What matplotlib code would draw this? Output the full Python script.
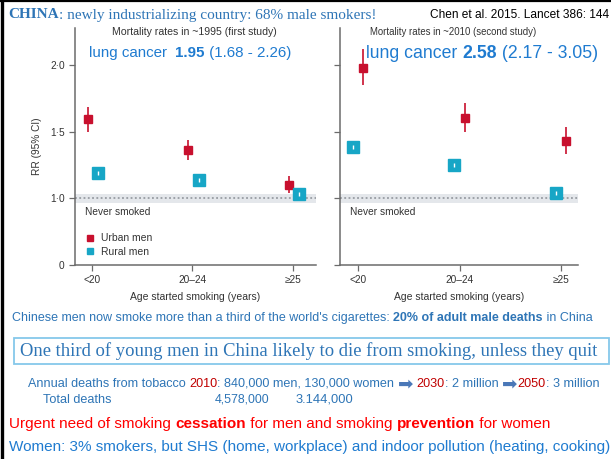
import matplotlib
matplotlib.use('Agg')
from matplotlib import pyplot as plt
from matplotlib import font_manager as fm
from matplotlib.lines import Line2D
from matplotlib.patches import Rectangle

# data
ages = ['<20', '20–24', '≥25']
urban_1995 = [1.60, 1.365, 1.10]
urban_1995_lo = [1.50, 1.29, 1.04]
urban_1995_hi = [1.69, 1.44, 1.17]
rural_1995 = [1.19, 1.135, 1.035]
rural_1995_lo = [1.175, 1.12, 1.02]
rural_1995_hi = [1.205, 1.15, 1.05]
urban_2010 = [1.98, 1.605, 1.435]
urban_2010_lo = [1.85, 1.50, 1.335]
urban_2010_hi = [2.125, 1.72, 1.54]
rural_2010 = [1.385, 1.25, 1.04]
rural_2010_lo = [1.37, 1.235, 1.025]
rural_2010_hi = [1.40, 1.265, 1.055]

W, H = 611, 459
RED = '#c8102e'
TEAL = '#17a6c6'
BLUE = '#2e75b6'
LBLUE = '#1f7bd0'


def has_font(name):
    try:
        fm.findfont(fm.FontProperties(family=name), fallback_to_default=False)
        return True
    except Exception:
        return False


NARROW = 'Liberation Sans Narrow' if has_font('Liberation Sans Narrow') else 'Liberation Sans'
SANS = 'Liberation Sans'
SERIF = 'Liberation Serif'

fig = plt.figure(figsize=(W / 100, H / 100), dpi=100)
fig.patch.set_facecolor('white')


def panel(rect, xlim, urban, ulo, uhi, rural, rlo, rhi, uoff, roff, ylabels):
    ax = fig.add_axes(rect)
    x = range(len(ages))
    ax.axhspan(0.965, 1.03, color='#e4e7eb', lw=0, zorder=0)
    ax.axhline(1.0, color='#8a8f96', lw=1.1, ls=(0, (1.2, 1.6)), zorder=1)
    xu = [i + uoff for i in x]
    xr = [i + roff for i in x]
    ax.vlines(xu, ulo, uhi, color=RED, lw=1.2, zorder=3)
    ax.plot(xu, urban, 's', color=RED, ms=5.5, mec=RED, zorder=4)
    ax.plot(xr, rural, 's', color=TEAL, ms=9, mec=TEAL, zorder=4)
    ax.vlines(xr, rlo, rhi, color='white', lw=1.0, zorder=5)
    ax.set_xlim(*xlim)
    ax.set_ylim(0.5, 2.28)
    ax.set_yticks([0.5, 1.0, 1.5, 2.0])
    if ylabels:
        ax.set_yticklabels(['0', '1·0', '1·5', '2·0'])
        ax.set_ylabel('RR (95% CI)', fontsize=7.3, color='#333', family=NARROW, labelpad=6)
    else:
        ax.set_yticklabels([])
    ax.set_xticks(list(x))
    ax.set_xticklabels(ages)
    ax.set_xlabel('Age started smoking (years)', fontsize=7.5, color='#333', family=NARROW, labelpad=5)
    for s in ['top', 'right']:
        ax.spines[s].set_visible(False)
    for s in ['left', 'bottom']:
        ax.spines[s].set_color('#6b6b6b')
        ax.spines[s].set_linewidth(1.1)
    ax.tick_params(direction='out', length=4, width=0.9, color='#6b6b6b',
                   labelsize=7.3, labelcolor='#333')
    for t in ax.get_xticklabels() + ax.get_yticklabels():
        t.set_family(NARROW)
    ax.text(0.04, 0.224, 'Never smoked', transform=ax.transAxes, fontsize=7.3,
            color='#333', family=NARROW, va='center')
    return ax


ax1 = panel([75 / W, 1 - 265 / H, 241 / W, 237 / H], (-0.169, 2.229),
            urban_1995, urban_1995_lo, urban_1995_hi,
            rural_1995, rural_1995_lo, rural_1995_hi, -0.04, 0.06, True)
ax2 = panel([340 / W, 1 - 265 / H, 238 / W, 237 / H], (-0.177, 2.167),
            urban_2010, urban_2010_lo, urban_2010_hi,
            rural_2010, rural_2010_lo, rural_2010_hi, 0.05, -0.05, False)

handles = [Line2D([], [], marker='s', ls='', color=RED, ms=5),
           Line2D([], [], marker='s', ls='', color=TEAL, ms=5)]
leg = ax1.legend(handles, ['Urban men', 'Rural men'], loc='upper left',
                 bbox_to_anchor=(0.02, 0.16), frameon=False, handlelength=0.7,
                 handletextpad=0.7, labelspacing=0.35, borderaxespad=0.2,
                 prop={'family': NARROW, 'size': 7.5})
for t in leg.get_texts():
    t.set_color('#333')

# slide text on a full-figure layer
bg = fig.add_axes([0, 0, 1, 1], zorder=10)
bg.axis('off')
bg.patch.set_alpha(0)


def text_line(pieces, x0, y, x1=None, size=10, family=SANS):
    arts = []
    mult = []
    base = None
    prev = None
    for s, c, w, fam, m in pieces:
        f = fam or family
        kw = dict(color=c, fontweight=w, family=f, fontsize=size * m, annotation_clip=False)
        if prev is None:
            t = bg.annotate(s, xy=(x0, H - y), xycoords='figure pixels', ha='left',
                            va='center', **kw)
            base = t
        elif m != 1:
            t = bg.annotate(s, xy=(1, 0.5), xycoords=(prev, base), ha='left', va='center', **kw)
        else:
            t = bg.annotate(s, xy=(1, 0), xycoords=(prev, base), ha='left', va='bottom', **kw)
        arts.append(t)
        mult.append(m)
        prev = t
    if x1 is not None:
        fig.canvas.draw()
        r = arts[-1].get_window_extent().x1
        l = arts[0].get_window_extent().x0
        k = (x1 - x0) / (r - l)
        for t, m in zip(arts, mult):
            t.set_fontsize(size * k * m)
    return arts


def P(s, c, w='normal', fam=None, m=1):
    return (s, c, w, fam, m)


text_line([P('CHINA', BLUE, 'bold'),
           P(': newly industrializing country: 68% male smokers!', BLUE)],
          8, 15, 377, size=11, family=SERIF)
text_line([P('Chen et al. 2015. Lancet 386: 144', 'black')], 430, 15, 610, size=9, family=NARROW)
text_line([P('Mortality rates in ~1995 (first study)', '#333')], 112, 32, 277, size=6.5, family=NARROW)
text_line([P('Mortality rates in ~2010 (second study)', '#333')], 370, 32, 536, size=6.5, family=NARROW)
text_line([P('lung cancer  ', LBLUE), P('1.95', LBLUE, 'bold'), P(' (1.68 - 2.26)', LBLUE)],
          89, 53, 292, size=12)
text_line([P('lung cancer ', LBLUE), P('2.58', LBLUE, 'bold'), P(' (2.17 - 3.05)', LBLUE)],
          366, 53, 598, size=12)
text_line([P("Chinese men now smoke more than a third of the world's cigarettes: ", BLUE),
           P('20% of adult male deaths', BLUE, 'bold'), P(' in China', BLUE)],
          12, 318, 592, size=10, family=NARROW)

fig.add_artist(Rectangle((14 / W, 1 - 364 / H), 595 / W, 26 / H, transform=fig.transFigure,
                         fill=False, edgecolor='#86c8ea', lw=1.3))
text_line([P('One third of young men in China likely to die from smoking, unless they quit', BLUE)],
          20, 351, 596, size=13, family=SERIF)

ARROW = '#4a78b8'
text_line([P('Annual deaths from tobacco ', BLUE), P('2010', '#c00000'),
           P(': 840,000 men, 130,000 women ', BLUE), P('➡', ARROW, fam='DejaVu Sans', m=1.45),
           P(' ', BLUE), P('2030', '#c00000'), P(': 2 million ', BLUE),
           P('➡', ARROW, fam='DejaVu Sans', m=1.45), P('2050', '#c00000'), P(': 3 million', BLUE)],
          28, 384, 602, size=10, family=NARROW)
text_line([P('Total deaths', BLUE)], 43, 400, 111, size=10, family=NARROW)
text_line([P('4,578,000', BLUE)], 215, 400, 270, size=10, family=NARROW)
text_line([P('3.144,000', BLUE)], 296, 400, 353, size=10, family=NARROW)
text_line([P('Urgent need of smoking ', '#ff0000'), P('cessation', '#ff0000', 'bold'),
           P(' for men and smoking ', '#ff0000'), P('prevention', '#ff0000', 'bold'),
           P(' for women', '#ff0000')], 9, 424, 549, size=11)
text_line([P('Women: 3% smokers, but SHS (home, workplace) and indoor pollution (heating, cooking)', LBLUE)],
          9, 447, 609, size=11)

# slide frame on top and left
fig.add_artist(Line2D([0, 1], [1 - 1 / H, 1 - 1 / H], transform=fig.transFigure, color='black', lw=1.6))
fig.add_artist(Line2D([1.5 / W, 1.5 / W], [0, 1], transform=fig.transFigure, color='black', lw=2.4))

fig.savefig('out.png', dpi=100)
